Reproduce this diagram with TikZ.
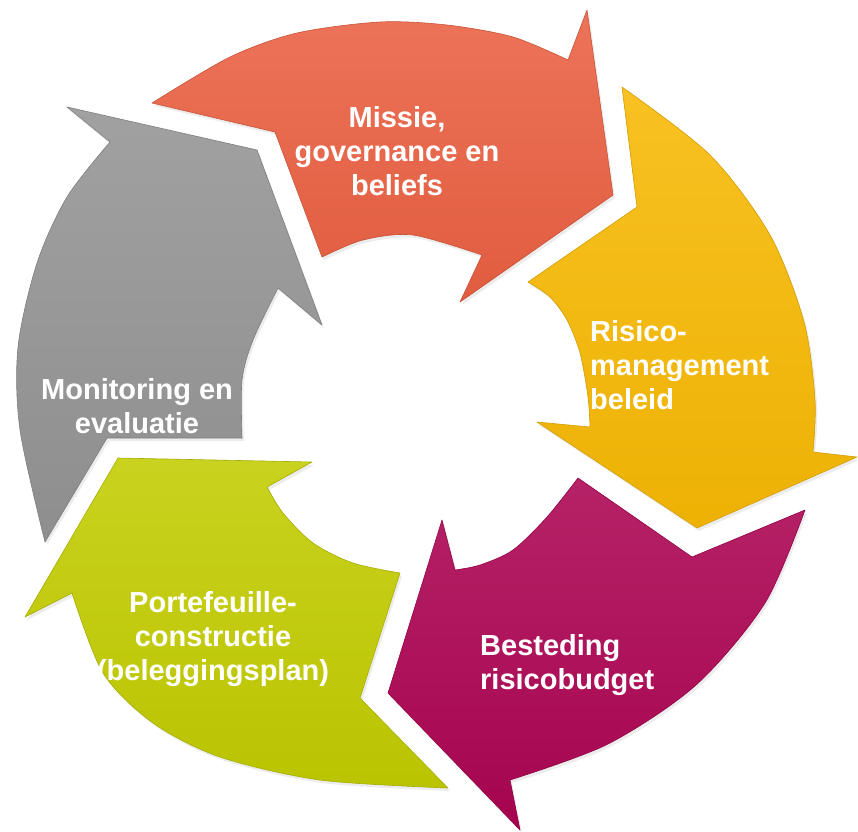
\documentclass[tikz,border=0pt]{standalone}
\usepackage{fontspec}
\setmainfont{Liberation Sans}
\usetikzlibrary{shadows}
\definecolor{missiered}{RGB}{234,96,66}
\definecolor{risicogold}{RGB}{247,185,4}
\definecolor{bestedingred}{RGB}{172,4,82}
\definecolor{portefeuillegreen}{RGB}{194,204,0}
\definecolor{monitorgray}{RGB}{148,148,148}

\begin{document}
\begin{tikzpicture}[x=1pt,y=-1pt,
  blade/.style={draw=#1!85!black, line width=0.6pt, line join=round,
    top color=#1!88!white, bottom color=#1!96!black,
    drop shadow={opacity=0.15, shadow xshift=2pt, shadow yshift=-3pt}},
  lbl/.style={text=white, inner sep=0pt, font=\fontsize{29}{34}\selectfont\bfseries}]
\useasboundingbox (0,0) rectangle (858,831);

\def\missiearrow{(152,103) -- (275,132) -- (322,257)
  -- plot[smooth] coordinates {(322,257) (363,240) (413,235) (482,255)}
  -- (460,302) -- (613,195) -- (587,10) -- (568,60)
  -- plot[smooth] coordinates {(568,60) (513,37) (447,25) (380,22) (297,33) (230,57) (152,103)} -- cycle}
\def\risicoarrow{(622,87) -- (637,207) -- (528,282)
  -- plot[smooth] coordinates {(528,282) (550,297) (567,320) (580,353) (588,397) (590,427)}
  -- (537,422) -- (697,528) -- (857,457) -- (813,452)
  -- plot[smooth] coordinates {(813,452) (815,400) (804,322) (770,235) (710,155) (622,87)} -- cycle}
\def\bestedingarrow{(805,510) -- (692,557) -- (578,478)
  -- plot[smooth] coordinates {(578,478) (547,517) (513,550) (480,565) (455,570)}
  -- (442,520) -- (388,693) -- (520,830) -- (510,780)
  -- plot[smooth] coordinates {(510,780) (608,744) (696,685) (765,603) (805,510)} -- cycle}
\def\portefeuillearrow{(448,788) -- (360,698) -- (400,573)
  -- plot[smooth] coordinates {(400,573) (353,563) (313,543) (283,513) (267,487)}
  -- (312,462) -- (118,458) -- (25,617) -- (72,593)
  -- plot[smooth] coordinates {(72,593) (103,673) (153,723) (220,757) (320,780) (448,788)} -- cycle}
\def\monitorarrow{(45,542) -- (107,438) -- (242,438)
  -- plot[smooth] coordinates {(242,438) (242,380) (253,340) (278,288)}
  -- (322,325) -- (257,150) -- (67,107) -- (110,142)
  -- plot[smooth] coordinates {(110,142) (67,197) (37,263) (18,347) (20,430) (45,542)} -- cycle}

\path[blade=missiered] \missiearrow;
\path[blade=risicogold] \risicoarrow;
\path[blade=bestedingred] \bestedingarrow;
\path[blade=portefeuillegreen] \portefeuillearrow;
\path[blade=monitorgray] \monitorarrow;

% labels, white on the arrows
\node[lbl, align=center] (missie) at (397,151) {Missie,\\governance en\\beliefs};
\node[lbl, align=left, anchor=west] (risico) at (590,365) {Risico-\\management\\beleid};
\node[lbl, align=left, anchor=west] (besteding) at (480,665) {Besteding\\risicobudget};
\node[lbl, align=center] (portefeuille) at (213,639) {Portefeuille-\\constructie\\(beleggingsplan)};
\node[lbl, align=center] (monitoring) at (137,406) {Monitoring en\\evaluatie};
\end{tikzpicture}
\end{document}
